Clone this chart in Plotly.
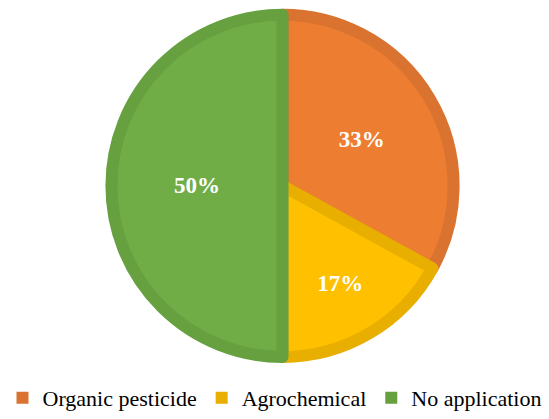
import plotly.graph_objects as go

categories = ["Organic pesticide", "Agrochemical", "No application"]
values = [33, 17, 50]
fill_colors = ["#ED7D31", "#FFC000", "#70AD47"]
line_colors = ["#D9732F", "#E8AE00", "#66A03F"]

fig = go.Figure()
fig.add_trace(go.Pie(
    labels=categories,
    values=values,
    sort=False,
    direction="clockwise",
    rotation=0,
    marker=dict(colors=fill_colors, line=dict(color=line_colors, width=12)),
    texttemplate="%{percent:.0%}",
    textposition="inside",
    insidetextorientation="horizontal",
    insidetextfont=dict(family="Liberation Serif", size=23, color="white", weight="bold"),
    domain=dict(x=[108.5/549, 456.5/549], y=[56/419, 404/419]),
    hoverinfo="label+percent",
    showlegend=False,
))

# legend proxies (square swatches like the original)
for name, col in zip(categories, line_colors):
    fig.add_trace(go.Scatter(
        x=[None], y=[None], mode="markers", name=name,
        marker=dict(symbol="square", size=12, color=col),
        showlegend=True, hoverinfo="skip",
    ))

fig.update_layout(
    width=549, height=419,
    margin=dict(l=0, r=0, t=0, b=0),
    paper_bgcolor="white",
    plot_bgcolor="white",
    xaxis=dict(visible=False),
    yaxis=dict(visible=False),
    showlegend=True,
    legend=dict(
        orientation="h", x=0.5, xanchor="center", y=0.033, yanchor="middle",
        font=dict(family="Liberation Serif", size=22, color="black"),
        itemwidth=30, tracegroupgap=0, bgcolor="rgba(0,0,0,0)",
    ),
)

fig.write_html("out.html")
